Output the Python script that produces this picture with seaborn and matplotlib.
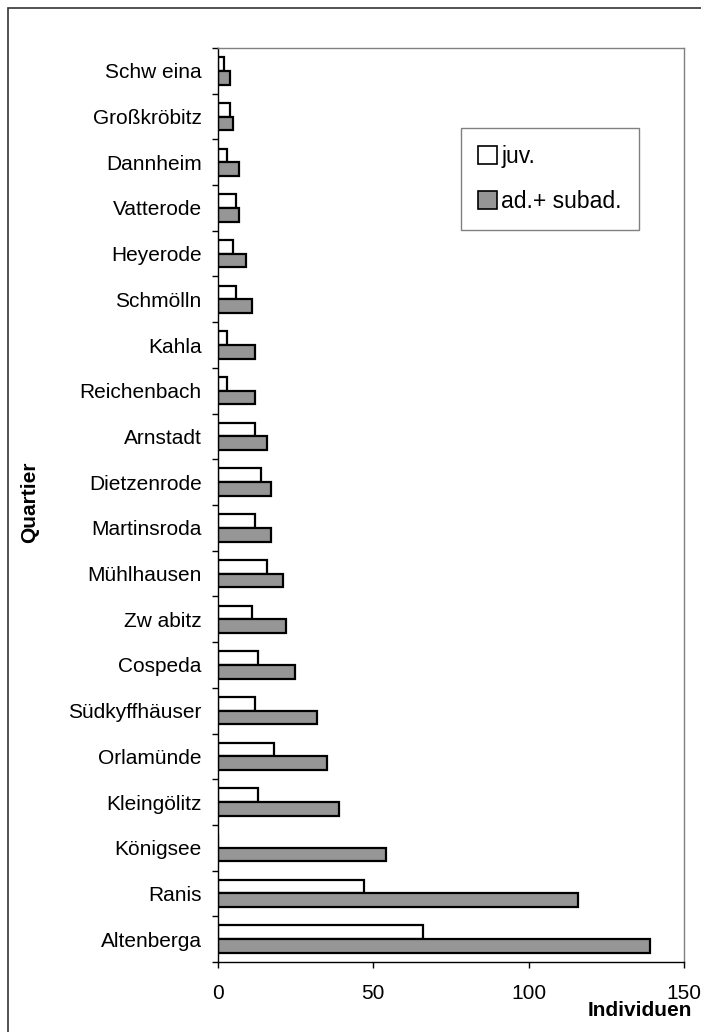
import numpy as np
import pandas as pd
import seaborn as sns
import matplotlib.pyplot as plt
from matplotlib.patches import Patch, Rectangle

quartiere = ['Schw eina', 'Großkröbitz', 'Dannheim', 'Vatterode', 'Heyerode',
             'Schmölln', 'Kahla', 'Reichenbach', 'Arnstadt', 'Dietzenrode',
             'Martinsroda', 'Mühlhausen', 'Zw abitz', 'Cospeda', 'Südkyffhäuser',
             'Orlamünde', 'Kleingölitz', 'Königsee', 'Ranis', 'Altenberga']
juv = [2, 4, 3, 6, 5, 6, 3, 3, 12, 14, 12, 16, 11, 13, 12, 18, 13, 0, 47, 66]
adult = [4, 5, 7, 7, 9, 11, 12, 12, 16, 17, 17, 21, 22, 25, 32, 35, 39, 54, 116, 139]
groups = ['juv.', 'ad.+ subad.']
colors = ['white', '#969696']
x_ticks = [0, 50, 100, 150]


def draw():
    sns.set_style('ticks')
    plt.rcParams['font.family'] = ['Liberation Sans', 'DejaVu Sans']
    for key in ['text.color', 'axes.labelcolor', 'xtick.color', 'ytick.color']:
        plt.rcParams[key] = 'black'
    fs = 15

    df = pd.DataFrame({
        'Quartier': quartiere * 2,
        'Individuen': juv + adult,
        'Gruppe': [groups[0]] * len(juv) + [groups[1]] * len(adult),
    })

    fig = plt.figure(figsize=(7.01, 10.32), dpi=100)
    ax = fig.add_axes([0.3106, 0.0678, 0.6651, 0.8857])
    sns.barplot(data=df, x='Individuen', y='Quartier', hue='Gruppe',
                order=quartiere, hue_order=groups,
                palette=dict(zip(groups, colors)), orient='h', width=0.6,
                edgecolor='black', linewidth=1.6, saturation=1,
                legend=False, ax=ax)

    ax.set_xlim(0, 150)
    ax.set_ylim(len(quartiere) - 0.5, -0.5)
    ax.set_xticks(x_ticks)
    ax.set_xlabel('')
    ax.set_ylabel('')

    # category ticks sit between the bars, labels in the middle
    ax.set_yticks(np.arange(-0.5, len(quartiere), 1), minor=True)
    ax.tick_params(axis='y', which='major', length=0, pad=11.5, labelsize=fs)
    ax.tick_params(axis='y', which='minor', length=4, width=1, direction='out')
    ax.tick_params(axis='x', which='major', length=4, width=1, direction='out',
                   pad=12, labelsize=fs)

    for side in ['left', 'bottom']:
        ax.spines[side].set_color('black')
        ax.spines[side].set_linewidth(1)
    for side in ['top', 'right']:
        ax.spines[side].set_visible(True)
        ax.spines[side].set_color('#808080')
        ax.spines[side].set_linewidth(1)

    handles = [Patch(facecolor=c, edgecolor='black', linewidth=1.2) for c in colors]
    leg = ax.legend(handles, groups, loc='upper left',
                    bbox_to_anchor=(461 / 701, 1 - 128 / 1032),
                    bbox_transform=fig.transFigure, borderaxespad=0,
                    prop={'size': 16.5}, handlelength=0.8, handleheight=0.8,
                    handletextpad=0.2, labelspacing=0.95, borderpad=0.75,
                    fancybox=False, framealpha=1)
    leg.get_frame().set_edgecolor('#808080')
    leg.get_frame().set_linewidth(1)

    fig.text(692 / 701, 1 - 1011 / 1032, 'Individuen', ha='right', va='center',
             fontsize=fs, fontweight='bold')
    fig.text(30 / 701, 1 - 502 / 1032, 'Quartier', ha='center', va='center',
             rotation=90, fontsize=fs, fontweight='bold')

    # outer frame of the original figure
    fig.patches.append(Rectangle((8 / 701, -0.1), 1.1, 1.1 - 8 / 1032,
                                 transform=fig.transFigure, fill=False,
                                 edgecolor='#333333', linewidth=1.2))

    fig.savefig('out.png', dpi=100)


if __name__ == '__main__':
    draw()
